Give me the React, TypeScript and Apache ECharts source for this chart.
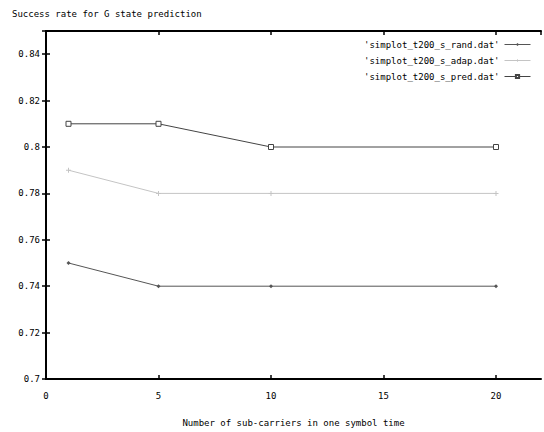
import React, { useEffect, useRef } from "react";
import * as echarts from "echarts";

const xValues = [1, 5, 10, 20];
const randValues = [0.75, 0.74, 0.74, 0.74];
const adapValues = [0.79, 0.78, 0.78, 0.78];
const predValues = [0.81, 0.81, 0.8, 0.8];
const seriesNames = [
  "'simplot_t200_s_rand.dat'",
  "'simplot_t200_s_adap.dat'",
  "'simplot_t200_s_pred.dat'",
];
const titleText = "Success rate for G state prediction";
const xAxisName = "Number of sub-carriers in one symbol time";

const FONT = "'DejaVu Sans Mono', 'Liberation Mono', monospace";
const PLUS = "path://M2,0H3V5H2Z M0,2H5V3H0Z";

function pairs(vals: number[]) {
  return xValues.map((x, i) => [x, vals[i]]);
}

export default function App() {
  const ref = useRef<HTMLDivElement>(null);
  useEffect(() => {
    if (!ref.current) return;
    const chart = echarts.init(ref.current, undefined, { renderer: "svg" });
    const axisCommon = {
      axisLine: { show: true, lineStyle: { color: "#000", width: 2 } },
      axisTick: { show: true, inside: true, length: 4, lineStyle: { color: "#000", width: 1.5 } },
      splitLine: { show: false },
    };
    chart.setOption({
      animation: false,
      backgroundColor: "#fff",
      title: {
        text: titleText,
        left: 12,
        top: 9,
        padding: 0,
        textStyle: { fontFamily: FONT, fontSize: 9, fontWeight: "normal", color: "#000" },
      },
      legend: {
        orient: "vertical",
        right: 13,
        top: 40,
        align: "right",
        itemWidth: 26,
        itemHeight: 4,
        itemGap: 7,
        padding: 0,
        lineStyle: { width: 1 },
        textStyle: { fontFamily: FONT, fontSize: 9, color: "#000" },
        data: seriesNames,
      },
      grid: { left: 46, right: 3, top: 31, bottom: 53, containLabel: false },
      xAxis: [
        {
          type: "value",
          min: 0,
          max: 22,
          interval: 5,
          position: "bottom",
          ...axisCommon,
          axisLabel: {
            showMaxLabel: false,
            margin: 12,
            fontFamily: FONT,
            fontSize: 9,
            color: "#000",
          },
          name: xAxisName,
          nameLocation: "middle",
          nameGap: 39,
          nameTextStyle: { fontFamily: FONT, fontSize: 9, color: "#000" },
        },
        {
          type: "value",
          min: 0,
          max: 22,
          interval: 5,
          position: "top",
          ...axisCommon,
          axisLabel: { show: false },
        },
      ],
      yAxis: [
        {
          type: "value",
          min: 0.7,
          max: 0.85,
          interval: 0.02,
          position: "left",
          ...axisCommon,
          axisLabel: {
            showMaxLabel: false,
            margin: 6,
            fontFamily: FONT,
            fontSize: 9,
            color: "#000",
            formatter: (v: number) => String(Math.round(v * 100) / 100),
          },
        },
        {
          type: "value",
          min: 0.7,
          max: 0.85,
          interval: 0.02,
          position: "right",
          ...axisCommon,
          axisLabel: { show: false },
        },
      ],
      series: [
        {
          name: seriesNames[0],
          type: "line",
          data: pairs(randValues),
          symbol: "diamond",
          symbolSize: 4,
          lineStyle: { color: "#555", width: 1 },
          itemStyle: { color: "#555" },
        },
        {
          name: seriesNames[1],
          type: "line",
          data: pairs(adapValues),
          symbol: PLUS,
          symbolSize: 5,
          lineStyle: { color: "#c4c4c4", width: 1 },
          itemStyle: { color: "#c4c4c4" },
        },
        {
          name: seriesNames[2],
          type: "line",
          data: pairs(predValues),
          symbol: "rect",
          symbolSize: 5,
          lineStyle: { color: "#444", width: 1 },
          itemStyle: { color: "#fff", borderColor: "#444", borderWidth: 1 },
        },
      ],
    });
    return () => chart.dispose();
  }, []);
  return <div ref={ref} style={{ width: 544, height: 432, position: "absolute", left: 0, top: 0 }} />;
}
